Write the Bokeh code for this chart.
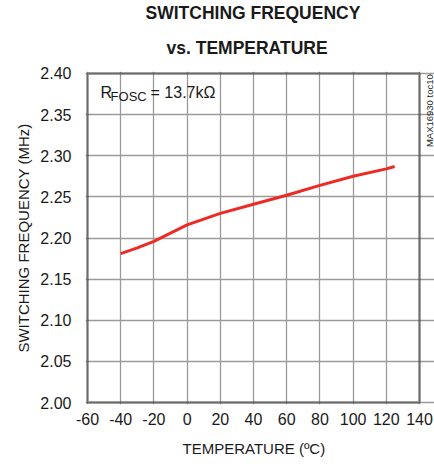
import math
from bokeh.plotting import figure
from bokeh.models import FixedTicker, PrintfTickFormatter, Label, Range1d, Title, BoxAnnotation
from bokeh.embed import file_html
from bokeh.resources import INLINE

# ---- data ----
temperature_c = [-40, -30, -20, -10, 0, 10, 20, 40, 60, 80, 100, 120, 125]
frequency_mhz = [2.181, 2.188, 2.196, 2.206, 2.216, 2.223, 2.230, 2.241, 2.252, 2.264, 2.275, 2.284, 2.287]
x_ticks = [-60, -40, -20, 0, 20, 40, 60, 80, 100, 120, 140]
x_tick_labels = ["-60", "-40", "-20", "0", "20", "40", "60", "80", "100", "120", "140"]
y_ticks = [2.00, 2.05, 2.10, 2.15, 2.20, 2.25, 2.30, 2.35, 2.40]
title_lines = ["SWITCHING FREQUENCY", "vs. TEMPERATURE"]
x_label = "TEMPERATURE (ºC)"
y_label = "SWITCHING FREQUENCY (MHz)"
note_main = "R"
note_sub = "FOSC"
note_rest = "= 13.7kΩ"
side_note = "MAX16930 toc10"

X_MIN, X_MAX = -60, 140
Y_MIN, Y_MAX = 2.00, 2.40

FONT = "Liberation Sans"
TXT = "#1a1a1a"

# frame is widened slightly (2 px each side, 15 px right) so the border box and
# the side note can be drawn inside it
PX_X = 332 / (X_MAX - X_MIN)
PX_Y = 330 / (Y_MAX - Y_MIN)
x_rng = Range1d(X_MIN - 2 / PX_X, X_MAX + 15 / PX_X)
y_rng = Range1d(Y_MIN - 2 / PX_Y, Y_MAX + 2 / PX_Y)

p = figure(width=434, height=468, output_backend="svg", toolbar_location=None,
           x_range=x_rng, y_range=y_rng,
           min_border_left=85, min_border_right=0, min_border_top=70, min_border_bottom=64)

p.outline_line_color = None
p.background_fill_color = "white"
p.border_fill_color = "white"

# titles (last added in "above" is nearest the frame)
p.title.text = title_lines[0]
p.title.align = "left"
p.title.offset = 60
p.title.text_font = FONT
p.title.text_font_size = "17.5px"
p.title.text_font_style = "bold"
p.title.text_color = TXT
p.title.standoff = 0
t2 = Title(text=title_lines[1], align="left", offset=81, text_font=FONT, text_font_size="17.5px",
           text_font_style="bold", text_color=TXT, standoff=27)
p.add_layout(t2, "above")

for ax in (p.xaxis[0], p.yaxis[0]):
    ax.axis_line_color = None
    ax.major_tick_line_color = None
    ax.minor_tick_line_color = None
    ax.major_tick_out = 0
    ax.major_tick_in = 0
    ax.minor_tick_out = 0
    ax.minor_tick_in = 0
    ax.major_label_text_font = FONT
    ax.major_label_text_font_size = "16px"
    ax.major_label_text_color = TXT
    ax.axis_label_text_font = FONT
    ax.axis_label_text_font_size = "15px"
    ax.axis_label_text_font_style = "normal"
    ax.axis_label_text_color = TXT

p.xaxis.ticker = FixedTicker(ticks=x_ticks)
p.xaxis.major_label_overrides = {t: s for t, s in zip(x_ticks, x_tick_labels)}
p.yaxis.ticker = FixedTicker(ticks=y_ticks)
p.yaxis.formatter = PrintfTickFormatter(format="%.2f")
p.yaxis.axis_label = y_label
p.xaxis.major_label_standoff = 8
p.yaxis.major_label_standoff = 14
p.yaxis.axis_label_standoff = 5

xt = Title(text=x_label, align="left", offset=97, text_font=FONT, text_font_size="15px",
           text_font_style="normal", text_color=TXT, standoff=21)
p.add_layout(xt, "below")

p.grid.grid_line_color = "#9a9a9a"
p.grid.grid_line_width = 1.3
p.xgrid.ticker = FixedTicker(ticks=x_ticks)
p.ygrid.ticker = FixedTicker(ticks=y_ticks)
p.xgrid.bounds = (Y_MIN, Y_MAX)
p.ygrid.bounds = (X_MIN, X_MAX)

# plot border
p.add_layout(BoxAnnotation(left=X_MIN, right=X_MAX, bottom=Y_MIN, top=Y_MAX,
                           fill_color=None, line_color="black", line_width=3))

p.line(temperature_c, frequency_mhz, line_color="#ee2a24", line_width=3)

# R_FOSC note
p.add_layout(Label(x=-52.2, y=2.377, text=note_main, text_baseline="middle",
                   text_font=FONT, text_font_size="16px", text_color=TXT))
p.add_layout(Label(x=-46.1, y=2.3715, text=note_sub, text_baseline="middle",
                   text_font=FONT, text_font_size="13px", text_color=TXT))
p.add_layout(Label(x=-22.0, y=2.377, text=note_rest, text_baseline="middle",
                   text_font=FONT, text_font_size="16px", text_color=TXT))

# side note
p.add_layout(Label(x=146.0, y=2.3105, text=side_note, angle=math.pi / 2,
                   text_align="left", text_baseline="middle",
                   text_font=FONT, text_font_size="9.5px", text_color=TXT))

open("out.html", "w").write(file_html(p, INLINE))
